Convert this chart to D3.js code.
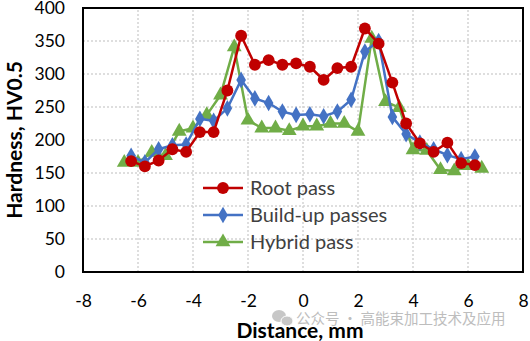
<!DOCTYPE html>
<html><head><meta charset="utf-8">
<script src="https://cdn.jsdelivr.net/npm/d3@7"></script>
<style>body{margin:0;background:#fff}svg{display:block}</style>
</head><body><svg id="c" width="530" height="341"></svg>
<script>
const xRoot = [-6.25,-5.75,-5.25,-4.75,-4.25,-3.75,-3.25,-2.75,-2.25,-1.75,-1.25,-0.75,-0.25,0.25,0.75,1.25,1.75,2.25,2.75,3.25,3.75,4.25,4.75,5.25,5.75,6.25];
const rootPass = [168,160,169,186,182,212,212,275,358,314,321,314,316,311,291,309,311,369,346,287,225,195,182,196,165,162];
const xBuild = xRoot;
const buildUp = [176,166,186,192,193,232,229,248,291,263,256,243,238,239,236,243,261,334,350,235,209,196,186,177,171,175];
const xHybrid = [-6.5,-6,-5.5,-5,-4.5,-4,-3.5,-3,-2.5,-2,-1.5,-1,-0.5,0,0.5,1,1.5,2,2.5,3,3.5,4,4.5,5,5.5,6,6.5];
const hybrid = [166,166,181,176,213,218,238,268,341,230,218,218,214,221,221,225,225,213,354,258,249,185,184,155,153,161,157];
const xTicks = [-8,-6,-4,-2,0,2,4,6,8];
const yTicks = [0,50,100,150,200,250,300,350,400];
const seriesNames = ["Root pass","Build-up passes","Hybrid pass"];

const svg = d3.select("#c");
const x = d3.scaleLinear().domain([-8,8]).range([83,523]);
const y = d3.scaleLinear().domain([0,400]).range([272,8]);
const font = "Lato, 'Open Sans', sans-serif";

// gridlines
const g = svg.append("g");
g.selectAll("line.h").data(yTicks.slice(1,-1)).join("line")
  .attr("x1",x(-8)).attr("x2",x(8)).attr("y1",d=>y(d)).attr("y2",d=>y(d))
  .attr("stroke","#d4d4d4").attr("stroke-width",1.5).attr("stroke-dasharray","2,2");
g.selectAll("line.v").data(xTicks.slice(1,-1)).join("line")
  .attr("y1",y(0)).attr("y2",y(400)).attr("x1",d=>x(d)).attr("x2",d=>x(d))
  .attr("stroke","#d4d4d4").attr("stroke-width",1.5).attr("stroke-dasharray","2,2");

// axes labels via d3 axes
const xAxis = svg.append("g").attr("transform",`translate(0,${y(0)})`)
  .call(d3.axisBottom(x).tickValues(xTicks).tickSize(0).tickPadding(23).tickFormat(d=>d));
const yAxis = svg.append("g").attr("transform",`translate(${x(-8)},0)`)
  .call(d3.axisLeft(y).tickValues(yTicks).tickSize(0).tickPadding(18));
[xAxis,yAxis].forEach(a=>{
  a.select(".domain").remove();
  a.selectAll("text").attr("font-family",font).attr("font-size",17.5).attr("fill","#000");
});

// border
svg.append("rect").attr("x",x(-8)).attr("y",y(400)).attr("width",x(8)-x(-8)).attr("height",y(0)-y(400))
  .attr("fill","none").attr("stroke","#000").attr("stroke-width",2);

const series = [
  {name:seriesNames[0], xs:xRoot, ys:rootPass, color:"#C00000", sym:d3.symbolCircle, size:110},
  {name:seriesNames[1], xs:xBuild, ys:buildUp, color:"#4472C4", sym:d3.symbolDiamond, size:80},
  {name:seriesNames[2], xs:xHybrid, ys:hybrid, color:"#70AD47", sym:d3.symbolTriangle, size:95},
];
const line = d3.line().x(d=>x(d[0])).y(d=>y(d[1]));
series.slice().reverse().forEach(s=>{
  const pts = s.xs.map((v,i)=>[v,s.ys[i]]);
  svg.append("path").attr("d",line(pts)).attr("fill","none").attr("stroke",s.color).attr("stroke-width",2.5);
  svg.selectAll(null).data(pts).join("path")
    .attr("transform",d=>`translate(${x(d[0])},${y(d[1])})`)
    .attr("d",d3.symbol().type(s.sym).size(s.size)).attr("fill",s.color);
});

// legend
const lg = svg.append("g");
series.forEach((s,i)=>{
  const yy = 188 + i*27;
  lg.append("line").attr("x1",203).attr("x2",243).attr("y1",yy).attr("y2",yy).attr("stroke",s.color).attr("stroke-width",2.5);
  lg.append("path").attr("transform",`translate(223,${yy})`).attr("d",d3.symbol().type(s.sym).size(s.size)).attr("fill",s.color);
  lg.append("text").attr("x",250).attr("y",yy).attr("dy","0.35em").attr("font-family",font).attr("font-size",20)
    .attr("fill","#404040").text(s.name);
});

// axis titles
svg.append("text").attr("x",300).attr("y",331).attr("dy","0.35em").attr("text-anchor","middle")
  .attr("font-family",font).attr("font-weight","bold").attr("font-size",21).text("Distance, mm");
svg.append("text").attr("transform","translate(15,140) rotate(-90)").attr("dy","0.35em").attr("text-anchor","middle")
  .attr("font-family",font).attr("font-weight","bold").attr("font-size",21).text("Hardness, HV0.5");

// watermark
const wm = svg.append("g").attr("opacity",0.75);
wm.append("ellipse").attr("cx",279).attr("cy",316).attr("rx",7).attr("ry",6).attr("fill","#b5b5b5");
wm.append("ellipse").attr("cx",287).attr("cy",321).attr("rx",6).attr("ry",5).attr("fill","#b5b5b5").attr("stroke","#fff").attr("stroke-width",1);
wm.append("text").attr("x",296).attr("y",319).attr("dy","0.35em").attr("font-family","'Noto Sans CJK SC'")
  .attr("font-size",14.5).attr("fill","#a8a8a8").text("公众号 · 高能束加工技术及应用");
</script></body></html>
